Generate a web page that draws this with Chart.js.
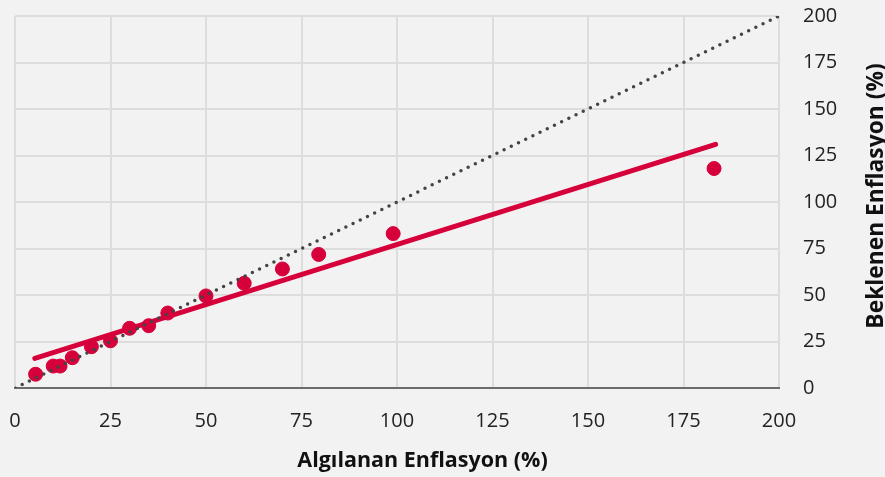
<!DOCTYPE html>
<html><head><meta charset="utf-8">
<script src="https://cdn.jsdelivr.net/npm/chart.js@4"></script>
<style>html,body{margin:0;padding:0;background:#f2f2f2;}#wrap{width:885px;height:477px;}</style>
</head><body><div id="wrap"><canvas id="c" width="885" height="477"></canvas></div>
<script>
const perceived = [5.4, 10, 11.8, 15, 20, 25, 30, 35, 40, 50, 60, 70, 79.5, 99, 183];
const expected = [7.4, 11.8, 11.8, 16.3, 22.2, 25.4, 32.1, 33.5, 40.3, 49.5, 56.3, 64, 71.8, 83, 118];
const fitX = [5.2, 183.4];
const fitY = [15.9, 131];
const diagX = [0, 200];
const diagY = [0, 200];
const xTitle = 'Algılanan Enflasyon (%)';
const yTitle = 'Beklenen Enflasyon (%)';
const RED = '#d6003b';

const pts = (xs, ys) => xs.map((x, i) => ({x, y: ys[i]}));

const titlePlugin = {
  id: 'axisTitles',
  afterDraw(chart) {
    const ctx = chart.ctx;
    ctx.save();
    ctx.fillStyle = '#111';
    ctx.textAlign = 'center';
    ctx.textBaseline = 'middle';
    ctx.font = 'bold 21.5px "Open Sans"';
    ctx.fillText(xTitle, 422.5, 461);
    ctx.translate(877, 196);
    ctx.rotate(-Math.PI / 2);
    ctx.font = 'bold 22.8px "Open Sans"';
    ctx.fillText(yTitle, 0, 0);
    ctx.restore();
  }
};

new Chart(document.getElementById('c'), {
  type: 'scatter',
  data: {
    datasets: [
      { type: 'line', data: pts(diagX, diagY), borderColor: '#444', borderWidth: 3.5,
        borderDash: [0, 8], borderCapStyle: 'round', pointRadius: 0, fill: false },
      { data: pts(perceived, expected), backgroundColor: RED, borderColor: RED,
        pointRadius: 7, pointHoverRadius: 7 },
      { type: 'line', data: pts(fitX, fitY), borderColor: RED, borderWidth: 5,
        borderCapStyle: 'round', pointRadius: 0, fill: false }
    ]
  },
  options: {
    responsive: false, animation: false,
    layout: { padding: { left: 15, top: 16, right: 0, bottom: 0 } },
    plugins: { legend: { display: false }, tooltip: { enabled: false } },
    scales: {
      x: {
        type: 'linear', min: 0, max: 200,
        ticks: { stepSize: 25, color: '#222', padding: 21,
          font: { family: '"Open Sans"', size: 20 } },
        grid: { color: '#dddddd', lineWidth: 2, drawTicks: false },
        border: { display: true, color: '#6b6b6b', width: 2 },
        afterFit(s) { s.height = 89; s.paddingLeft = 0; s.paddingRight = 0; }
      },
      y: {
        type: 'linear', position: 'right', min: 0, max: 200,
        ticks: { stepSize: 25, color: '#222', padding: 24,
          font: { family: '"Open Sans"', size: 20 } },
        grid: { color: '#dddddd', lineWidth: 2, drawTicks: false },
        border: { display: false },
        afterFit(s) { s.width = 106; s.paddingTop = 0; s.paddingBottom = 0; }
      }
    }
  },
  plugins: [titlePlugin]
});
</script></body></html>
